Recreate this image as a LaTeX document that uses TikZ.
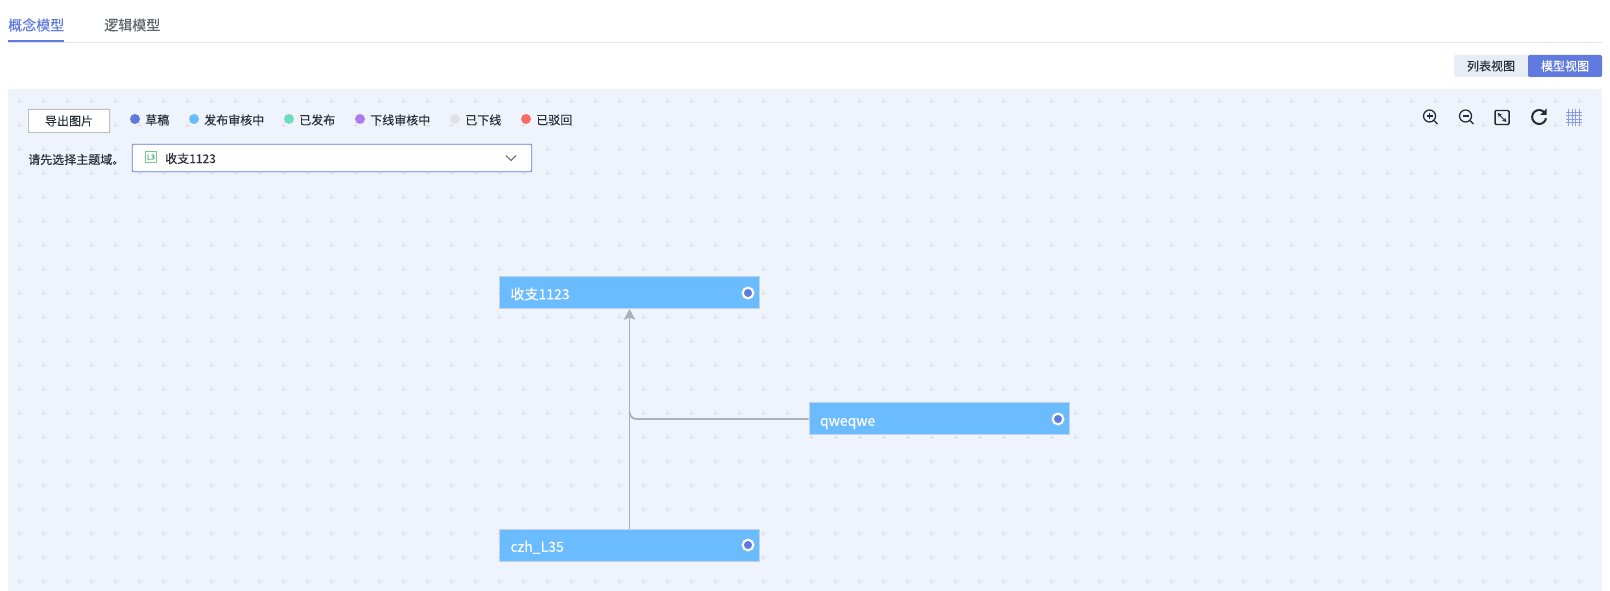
\documentclass[tikz,border=0pt]{standalone}
\usepackage{fontspec}
\setmainfont[FakeBold=0.12]{Noto Sans CJK SC}
\newfontfamily\tabfont[FakeBold=0.35]{Noto Sans CJK SC}
\usetikzlibrary{arrows.meta}
\definecolor{canvasbg}{HTML}{EFF3FC}
\definecolor{gridplus}{HTML}{DDE1EC}
\definecolor{brand}{HTML}{5F7BE0}
\definecolor{nodeblue}{HTML}{6BBBFF}
\definecolor{nodeedge}{HTML}{BFD3EC}
\definecolor{linkgrey}{HTML}{AEB0B8}
\definecolor{ink}{HTML}{2B2F3A}
\definecolor{iconink}{HTML}{252A35}
\definecolor{rule}{HTML}{E2E3EA}
\definecolor{softbtn}{HTML}{E8ECF7}
\tikzset{
  x=0.75pt,y=-0.75pt,
  tiny/.style={font=\fontsize{9}{11}\selectfont,text=ink,inner sep=0pt},
  tabtxt/.style={font=\fontsize{10.5}{12}\selectfont,inner sep=0pt,anchor=west},
  legdot/.style={circle,minimum size=7.5pt,inner sep=0pt,draw=none},
  modelbox/.style={draw=nodeedge,line width=0.75pt,fill=nodeblue,text=white,
    font=\fontsize{10.5}{12}\selectfont,minimum height=24pt,inner xsep=8.25pt,inner ysep=0pt,
    text width=178.5pt,align=left,text height=10.5pt,text depth=0.3pt},
  port/.style={circle,draw=white,line width=1.6pt,fill=brand,minimum size=8pt,inner sep=0pt},
  link/.style={draw=linkgrey,line width=1.35pt},
  icon/.style={draw=iconink,line width=0.95pt},
}
\begin{document}
\begin{tikzpicture}
\useasboundingbox (0,0) rectangle (1610,591);
\fill[white] (0,0) rectangle (1610,591);
% tabs
\node[tabtxt,text=brand,font=\fontsize{10.5}{12}\selectfont\tabfont] (tabA) at (8,25) {概念模型};
\node[tabtxt,text=ink!75] (tabB) at (104,25) {逻辑模型};
\fill[rule] (8,42) rectangle (1602,43);
\fill[brand] (8,40) rectangle (64,42);
% view buttons
\fill[softbtn,rounded corners=1pt] (1454,55) rectangle (1530,77);
\fill[brand,rounded corners=1pt] (1528,55) rectangle (1602,77);
\node[tiny] (btnL) at (1491,66) {列表视图};
\node[tiny,text=white] (btnM) at (1565,66) {模型视图};
% canvas
\fill[canvasbg] (8,89) rectangle (1602,591);
\foreach \i in {0,...,65}{\foreach \j in {0,...,20}{
  \draw[gridplus,line width=0.5pt] ({19.5+24*\i-2.5},{101+24*\j}) -- ++(5,0) ({19.5+24*\i},{101+24*\j-2.5}) -- ++(0,5);
}}
% export button
\node[draw=ink!45,fill=white,rounded corners=0.6pt,line width=0.5pt,minimum width=61pt,minimum height=17.5pt,inner sep=0pt,tiny] (export) at (69,121) {导出图片};
% legend
\node[legdot,fill=brand] (d1) at (135,119) {};
\node[tiny,anchor=west] (t1) at (145,120) {草稿};
\node[legdot,fill=nodeblue] (d2) at (194,119) {};
\node[tiny,anchor=west] (t2) at (204,120) {发布审核中};
\node[legdot,fill={rgb,255:red,111;green,221;blue,187}] (d3) at (289,119) {};
\node[tiny,anchor=west] (t3) at (299,120) {已发布};
\node[legdot,fill={rgb,255:red,169;green,124;blue,240}] (d4) at (360,119) {};
\node[tiny,anchor=west] (t4) at (370,120) {下线审核中};
\node[legdot,fill={rgb,255:red,224;green,226;blue,230}] (d5) at (455,119) {};
\node[tiny,anchor=west] (t5) at (465,120) {已下线};
\node[legdot,fill={rgb,255:red,250;green,107;blue,102}] (d6) at (526,119) {};
\node[tiny,anchor=west] (t6) at (536,120) {已驳回};
% select
\node[tiny,anchor=west] (lab) at (28,159.5) {请先选择主题域。};
\node[draw=brand,fill=white,rounded corners=0.6pt,line width=0.6pt,minimum width=299.5pt,minimum height=20.5pt,inner sep=0pt] (sel) at (332,158) {};
\node[draw={rgb,255:red,115;green,205;blue,145},fill=white,line width=0.75pt,minimum size=8.5pt,inner sep=0pt,font=\fontsize{5.5}{6}\selectfont,text={rgb,255:red,80;green,170;blue,120}] (l3) at (151,157) {L3};
\node[tiny,anchor=west] (seltxt) at (165,158.5) {收支1123};
\draw[ink!80,line width=0.75pt] (506,155.5) -- (511,160.5) -- (516,155.5);
% toolbar icons
\draw[icon] (1429.5,116) circle (6);
\draw[icon] (1426.5,116) -- ++(6,0) (1429.5,113) -- ++(0,6);
\draw[icon] (1434,120.5) -- (1437.5,124);
\draw[icon] (1465.5,116) circle (6);
\draw[icon] (1462.5,116) -- ++(6,0);
\draw[icon] (1470,120.5) -- (1473.5,124);
\draw[icon,line width=1.1pt,rounded corners=0.8pt] (1495,110.5) rectangle (1509,124.5);
\draw[iconink,line width=0.7pt,{Stealth[length=3.2pt,width=3.2pt]}-{Stealth[length=3.2pt,width=3.2pt]}] (1497.5,113) -- (1506.5,122);
\draw[icon,line width=1.5pt] (1544.5,112.5) arc (-40:-350:7);
\fill[iconink] (1546.5,108.5) -- (1546.5,115) -- (1540,115) -- cycle;
\draw[brand!75,line width=0.7pt] (1566,112) -- (1582,112) (1566,115.5) -- (1582,115.5) (1566,119) -- (1582,119) (1566,122.5) -- (1582,122.5)
  (1568.5,109) -- (1568.5,126) (1572,109) -- (1572,126) (1575.5,109) -- (1575.5,126) (1579,109) -- (1579,126);
% model nodes
\node[modelbox] (n1) at (629.5,292.5) {收支1123};
\node[modelbox] (n2) at (939,419) {qweqwe};
\node[modelbox] (n3) at (629.5,545) {czh\_L35};
\node[port] (p1) at (748,293) {};
\node[port] (p2) at (1058,419) {};
\node[port] (p3) at (748,545) {};
% connectors
\draw[link] (n2.west) -- (636.5,419) to[out=180,in=-90] (629.5,412);
\draw[link,-{Stealth[length=8pt,width=8.5pt,inset=1.5pt]}] (n3.north) -- (n1.south);
\end{tikzpicture}
\end{document}
